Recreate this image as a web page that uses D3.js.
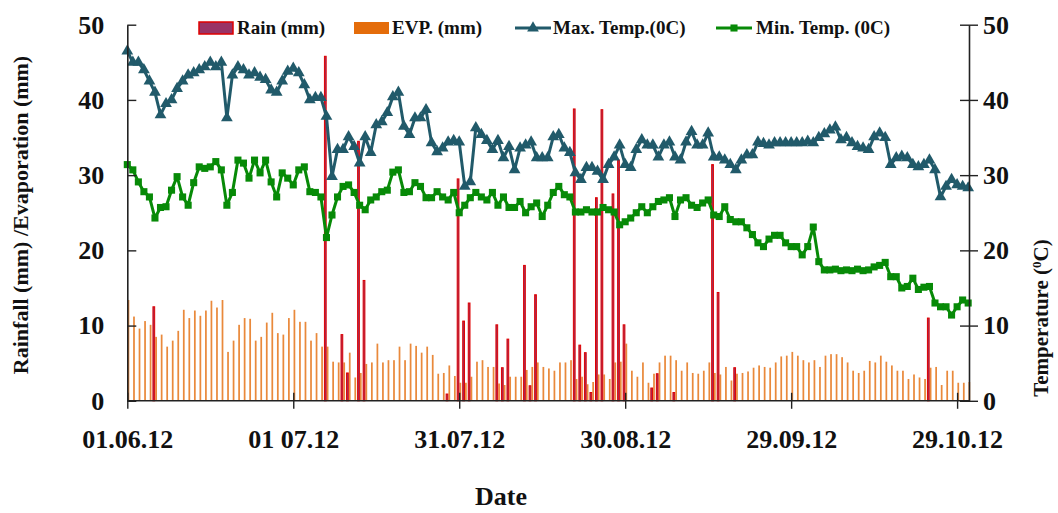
<!DOCTYPE html>
<html>
<head>
<meta charset="utf-8">
<script src="https://cdn.jsdelivr.net/npm/d3@7"></script>
<style>
  body { margin: 0; background: #fff; }
  svg text { font-family: "Liberation Serif", "Times New Roman", serif; font-weight: bold; fill: #111; }
</style>
</head>
<body>
<div id="chart"></div>
<script>
// 日期刻度（每 30 天一个）
const tickDays = [0, 30, 60, 90, 120, 150];
const tickLabels = ["01.06.12", "01 07.12", "31.07.12", "30.08.12", "29.09.12", "29.10.12"];
const yTicks = [0, 10, 20, 30, 40, 50];

// 降雨量 (mm)，1 Jun – 31 Oct
const rain = [
  0,0,0,0,0,12.5,0,0,0,0,
  0,0,0,0,0,0,0,0,0,0,
  0,0,0,0,0,0,0,0,0,0,
  0,0,0,0,0,0,45.8,0,0,8.8,
  3.7,0,34.5,16,0,0,0,0,0,0,
  0,0,0,0,0,0,0,0,0.9,0,
  29.5,10.6,13,0,0,0,0,10.1,4.4,8.2,
  0,0,18,2,14.1,0,0,0,0,0,
  0,38.8,7.4,6.4,1.1,27,38.7,0,27.5,32,
  10.1,0,0,0,0,1.7,3.6,0,0,1.1,
  0,0,0,0,0,0,31.4,14.4,0,0,
  4.4,0,0,0,0,0,0,0,0,0,
  0,0,0,0,0,0,0,0,0,0,
  0,0,0,0,0,0,0,0,0,0,
  0,0,0,0,0,11,0,0,0,0,
  0,0,0
];

// 蒸发量 (mm)
const evp = [
  13.4,11.2,9.6,10.6,10.1,8.5,8.8,7.2,8,9.3,
  12.1,11,12,11.3,12,13.3,12.4,13.4,6.5,8,
  10.1,11,10.9,8,8.5,10.4,11.7,9,8.8,11,
  12.1,10.5,10.5,8,9,7.2,7.2,5.2,5.1,5.1,
  6.4,3.1,3.7,4.9,5.1,7.6,5.1,5.4,5.4,7.2,
  5.4,7.6,7.3,6.4,7.2,6.1,3.6,3.7,4.7,3.3,
  2.4,2.4,3.2,5.2,5.4,4.5,4.5,2.3,2.1,3.2,
  3.2,3.2,4.1,4.5,5.1,4.5,4.3,4,5.1,5.1,
  5.4,2.9,3.2,2.2,2.5,3.5,3.5,2.9,5.1,5.2,
  7.6,4,3.2,5.1,2.4,3.6,5.1,6,6,5.4,
  4,5.1,3.7,3.6,4,5.1,3.7,3.5,4.5,2.7,
  3.6,3.7,3.9,4.4,4.7,4.5,4.4,5.1,5.9,6,
  6.5,6,5.4,5.1,5.4,4.5,6,6.2,6.2,5.8,
  5.1,4,3.7,4,5.3,5.1,6,5.2,4.7,4,
  4,2.9,3.5,3.1,2.9,4.4,4.5,2.1,4,4,
  2.4,2.4,2.5
];

// 最高温度 (°C)
const maxTemp = [
  46.5,45,45,44,42.5,41,38,39.5,40,41.5,
  42.5,43.3,43.6,44,44.4,45,44.4,45,37.6,43.3,
  44.4,44,43.3,43.6,43,42.7,41.3,41,42.5,43.8,
  44.2,43.6,42,40,40.3,40.3,37.8,29.8,33.4,33.4,
  35.1,33.8,31.6,35.1,33,36.7,37.1,38.3,40.4,41,
  36.5,35.4,37.6,37.6,38.7,34.3,33.1,33.6,34.4,34.6,
  34.4,28.5,29.1,36.3,35.4,34.6,33.4,34.6,32.3,33.8,
  30.7,33.6,34,34.4,32.3,32.3,32.3,35.1,35.4,33.6,
  33,30.3,29.4,31,31,30.5,29.4,31.4,32.4,34,
  31.4,31,33.4,34.7,34,34,32.4,34,34.4,32.4,
  32,34.4,35.8,34,34,35.6,32.4,32.4,32,31.4,
  30.7,32,32.7,32.7,34.4,34.2,34,34.3,34.3,34.3,
  34.3,34.3,34.3,34.5,34.3,35,35.5,36,36.4,34.7,
  35,34.3,33.8,33.6,33.4,35.1,35.6,35,31.4,32.3,
  32.5,32.3,31.4,31.1,31.4,32,30.7,27.1,28.5,29.4,
  28.7,28.5,28.3
];

// 最低温度 (°C)
const minTemp = [
  31.4,30.7,29.1,27.8,27.1,24.3,25.7,25.8,28,29.8,
  27.1,26,29,31.1,30.9,31.1,31.8,30.7,26,27.7,
  32,31.6,29.6,32,30.3,32,29.1,27.1,30.3,29.6,
  28.7,30.7,31.1,27.8,27.7,27.1,21.7,24.7,27.1,28.5,
  28.7,27.7,26,25.4,26.7,27.1,27.8,28,30.4,30.7,
  27.7,27.8,29,28.5,27,27,27.8,27.1,26.7,27.7,
  25,26,27,27.7,27.1,26.7,27.7,26,27.1,25.7,
  25.7,26.5,25,25.8,26.3,24.5,26,27.7,28.5,27.4,
  27.1,25.1,25.1,25.4,25.1,25.1,25.7,25.4,25.1,23.4,
  23.8,24.3,25,25.8,25,25.8,26.5,26.7,27,24.5,
  26.7,27,26,25.7,26.3,26.7,24.7,24.5,25.8,24.1,
  23.8,23.8,23,22.1,21,20.5,21.5,22,22,21,
  20.5,20.5,19.4,20.5,23.1,18.5,17.4,17.4,17.5,17.3,
  17.4,17.3,17.5,17.3,17.4,17.8,18,18.4,16.5,16.5,
  15,15.2,16.3,14.8,15.1,15.2,13,12.5,12.5,11.4,
  12.5,13.4,13
];

const width = 1058, height = 513;
const plotLeft = 127.3, plotRight = 969, plotTop = 24.7, plotBottom = 400.8;

const colors = {
  rainFill: '#993366', rainStroke: '#e00000',
  evp: '#e46c0a', maxT: '#215a6a', minT: '#078a07'
};

const svg = d3.select('#chart').append('svg')
  .attr('width', width)
  .attr('height', height);

// 比例尺
const x = d3.scaleLinear().domain([0, 152.15]).range([plotLeft, plotRight]);
const y = d3.scaleLinear().domain([0, 50]).range([plotBottom, plotTop]);
const yR = d3.scaleLinear().domain([0, 50]).range([plotBottom, plotTop]);
const sub = d3.scaleBand().domain(['rain', 'evp']).range([-2.6, 2.6]).padding(0.25);

const days = d3.range(rain.length);

// 柱：蒸发量
svg.append('g').selectAll('rect')
  .data(days.filter(d => evp[d] > 0))
  .join('rect')
  .attr('x', d => x(d) + sub('evp'))
  .attr('width', sub.bandwidth())
  .attr('y', d => y(evp[d]))
  .attr('height', d => y(0) - y(evp[d]))
  .attr('fill', colors.evp)
  .attr('opacity', 0.8);

// 柱：降雨量
svg.append('g').selectAll('rect')
  .data(days.filter(d => rain[d] > 0))
  .join('rect')
  .attr('x', d => x(d) + sub('rain'))
  .attr('width', sub.bandwidth())
  .attr('y', d => y(rain[d]))
  .attr('height', d => y(0) - y(rain[d]))
  .attr('fill', colors.rainFill)
  .attr('stroke', colors.rainStroke)
  .attr('stroke-width', 1);

// 温度折线
const line = d3.line().x(d => x(d[0])).y(d => yR(d[1]));
const tri = d3.symbol(d3.symbolTriangle, 60);
const sq = d3.symbol(d3.symbolSquare, 50);

[
  { vals: minTemp, color: colors.minT, sym: sq },
  { vals: maxTemp, color: colors.maxT, sym: tri }
].forEach(s => {
  const pts = s.vals.map((v, i) => [i, v]);
  svg.append('path')
    .attr('d', line(pts))
    .attr('fill', 'none')
    .attr('stroke', s.color)
    .attr('stroke-width', 3)
    .attr('stroke-linejoin', 'round');
  svg.append('g').selectAll('path')
    .data(pts)
    .join('path')
    .attr('d', s.sym)
    .attr('transform', d => `translate(${x(d[0])},${yR(d[1])})`)
    .attr('fill', s.color);
});

// 坐标轴
function styleAxis(g) {
  g.select('.domain').attr('stroke', '#222').attr('stroke-width', 1.6);
  g.selectAll('.tick line').attr('stroke', '#222').attr('stroke-width', 1.4);
  g.selectAll('.tick text').style('font-size', '26px').attr('fill', '#111');
}

const yAxisL = svg.append('g')
  .attr('transform', `translate(${plotLeft},0)`)
  .call(d3.axisLeft(y).tickValues(yTicks).tickSize(9).tickSizeOuter(0).tickPadding(14));
yAxisL.selectAll('.tick line').attr('x2', 9);
styleAxis(yAxisL);

const yAxisR = svg.append('g')
  .attr('transform', `translate(${plotRight},0)`)
  .call(d3.axisRight(yR).tickValues(yTicks).tickSize(9).tickSizeOuter(0).tickPadding(5));
yAxisR.selectAll('.tick line').attr('x1', -9);
styleAxis(yAxisR);

const xAxis = svg.append('g')
  .attr('transform', `translate(0,${plotBottom})`)
  .call(d3.axisBottom(x).tickValues(tickDays)
    .tickFormat((d, i) => tickLabels[i]).tickSize(8).tickSizeOuter(0).tickPadding(21));
xAxis.select('.domain').attr('d', `M${plotLeft},0H${plotRight}`);
xAxis.selectAll('.tick line').attr('y1', -8);
styleAxis(xAxis);

// 轴标题
svg.append('text')
  .attr('transform', `translate(28,215) rotate(-90)`)
  .attr('text-anchor', 'middle')
  .style('font-size', '22px')
  .text('Rainfall (mm) /Evaporation (mm)');

const rt = svg.append('text')
  .attr('transform', `translate(1048,318) rotate(-90)`)
  .attr('text-anchor', 'middle')
  .style('font-size', '21px');
rt.append('tspan').text('Temperature (');
rt.append('tspan').attr('dy', -7).style('font-size', '13px').text('0');
rt.append('tspan').attr('dy', 7).text('C)');

svg.append('text')
  .attr('x', 501)
  .attr('y', 505)
  .attr('text-anchor', 'middle')
  .style('font-size', '26px')
  .text('Date');

// 图例
const legend = svg.append('g').style('font-size', '19px');
const ly = 28;
legend.append('rect').attr('x', 199).attr('y', ly - 6).attr('width', 34).attr('height', 12)
  .attr('fill', colors.rainFill).attr('stroke', colors.rainStroke).attr('stroke-width', 1.5);
legend.append('text').attr('x', 237).attr('y', ly + 6).text('Rain (mm)');

legend.append('rect').attr('x', 354).attr('y', ly - 6).attr('width', 35).attr('height', 12)
  .attr('fill', colors.evp);
legend.append('text').attr('x', 392).attr('y', ly + 6).text('EVP. (mm)');

legend.append('line').attr('x1', 515).attr('x2', 551).attr('y1', ly).attr('y2', ly)
  .attr('stroke', colors.maxT).attr('stroke-width', 3);
legend.append('path').attr('d', tri).attr('transform', `translate(533,${ly})`).attr('fill', colors.maxT);
legend.append('text').attr('x', 553).attr('y', ly + 6).text('Max. Temp.(0C)');

legend.append('line').attr('x1', 716).attr('x2', 752).attr('y1', ly).attr('y2', ly)
  .attr('stroke', colors.minT).attr('stroke-width', 3);
legend.append('path').attr('d', sq).attr('transform', `translate(734,${ly})`).attr('fill', colors.minT);
legend.append('text').attr('x', 756).attr('y', ly + 6).text('Min. Temp. (0C)');
</script>
</body>
</html>
